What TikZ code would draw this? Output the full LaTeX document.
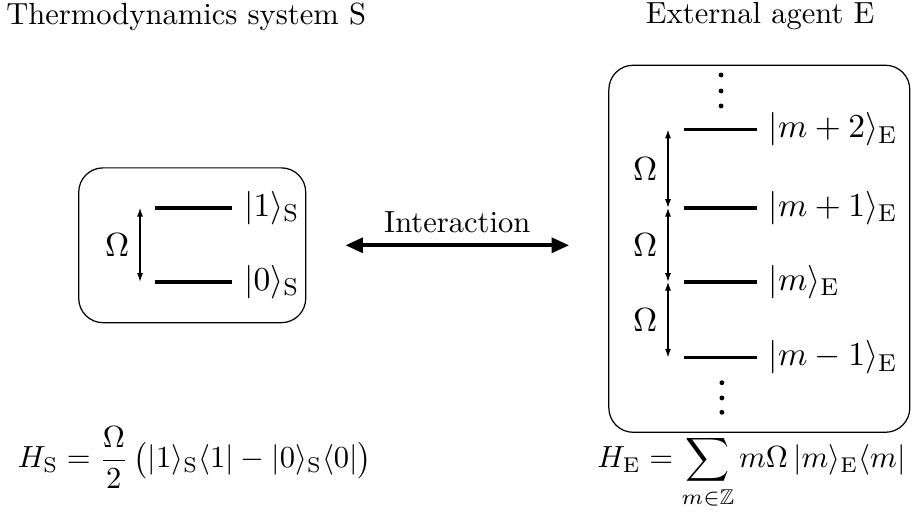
\documentclass[tikz,border=0pt]{standalone}
\usepackage{amsmath,amssymb}
\usetikzlibrary{arrows.meta}
\tikzset{
  level/.style={very thick},
  gap/.style={thin,{Latex[length=1mm,width=0.7mm]}-{Latex[length=1mm,width=0.7mm]}},
  box/.style={draw,thin,rounded corners=0.28cm},
  ket/.style={font=\fontsize{10.95}{13.6}\selectfont}
}
\begin{document}
\begin{tikzpicture}[scale=1.0]
    \useasboundingbox (0,0) rectangle (10.52,-6.03);
    % titles
    \node (stitle) at (2.14,-0.19) {Thermodynamics system S};
    \node (etitle) at (8.74,-0.19) {External agent E};
    % system S
    \node[box,minimum width=2.61cm,minimum height=1.78cm] (sbox) at (2.21,-2.82) {};
    \coordinate (sa) at (1.61,0);
    \coordinate (s1) at (1.78,-2.39);
    \coordinate (s0) at (1.78,-3.24);
    \draw[level] (s1) -- ++(0.89,0) node[right,ket] (s1lab) {$|1\rangle_{\mathrm{S}}$};
    \draw[level] (s0) -- ++(0.89,0) node[right,ket] (s0lab) {$|0\rangle_{\mathrm{S}}$};
    \draw[gap] (s1 -| sa) -- node[left,ket] (somega) {$\Omega$} (s0 -| sa);
    % agent E
    \node[box,minimum width=3.46cm,minimum height=4.22cm] (ebox) at (8.73,-2.86) {};
    \coordinate (ea) at (7.68,0);
    \coordinate (e2) at (7.86,-1.49);
    \coordinate (e1) at (7.86,-2.39);
    \coordinate (e0) at (7.86,-3.24);
    \coordinate (em) at (7.86,-4.11);
    \draw[level] (e2) -- ++(0.84,0) node[right,ket] (e2lab) {$|m+2\rangle_{\mathrm{E}}$};
    \draw[level] (e1) -- ++(0.84,0) node[right,ket] (e1lab) {$|m+1\rangle_{\mathrm{E}}$};
    \draw[level] (e0) -- ++(0.84,0) node[right,ket] (e0lab) {$|m\rangle_{\mathrm{E}}$};
    \draw[level] (em) -- ++(0.84,0) node[right,ket] (emlab) {$|m-1\rangle_{\mathrm{E}}$};
    \draw[gap] (e2 -| ea) -- node[left,ket] (eomega2) {$\Omega$} (e1 -| ea);
    \draw[gap] (e1 -| ea) -- node[left,ket] (eomega1) {$\Omega$} (e0 -| ea);
    \draw[gap] (e0 -| ea) -- node[left,ket] (eomega0) {$\Omega$} (em -| ea);
    % dots
    \fill (8.29,-0.862) circle (0.028) (8.29,-1.046) circle (0.028) (8.29,-1.218) circle (0.028);
    \fill (8.30,-4.40) circle (0.028) (8.30,-4.575) circle (0.028) (8.30,-4.74) circle (0.028);
    % interaction
    \draw[very thick,{Triangle[length=2mm,width=1.7mm]}-{Triangle[length=2mm,width=1.7mm]},
      shorten <=0.45cm,shorten >=0.45cm] (sbox.east) -- node[above] (ilab)
      {Interaction} (sbox.east -| ebox.west);
    % hamiltonians
    \node[anchor=base] (hs) at (2.24,-5.38)
      {$H_{\mathrm{S}} = \dfrac{\Omega}{2}\,\bigl(|1\rangle_{\mathrm{S}}\langle 1| - |0\rangle_{\mathrm{S}}\langle 0|\bigr)$};
    \node[anchor=base] (he) at (8.64,-5.38)
      {$H_{\mathrm{E}} = \displaystyle\sum_{m\in\mathbb{Z}} m\Omega\, |m\rangle_{\mathrm{E}}\langle m|$};
\end{tikzpicture}
\end{document}
